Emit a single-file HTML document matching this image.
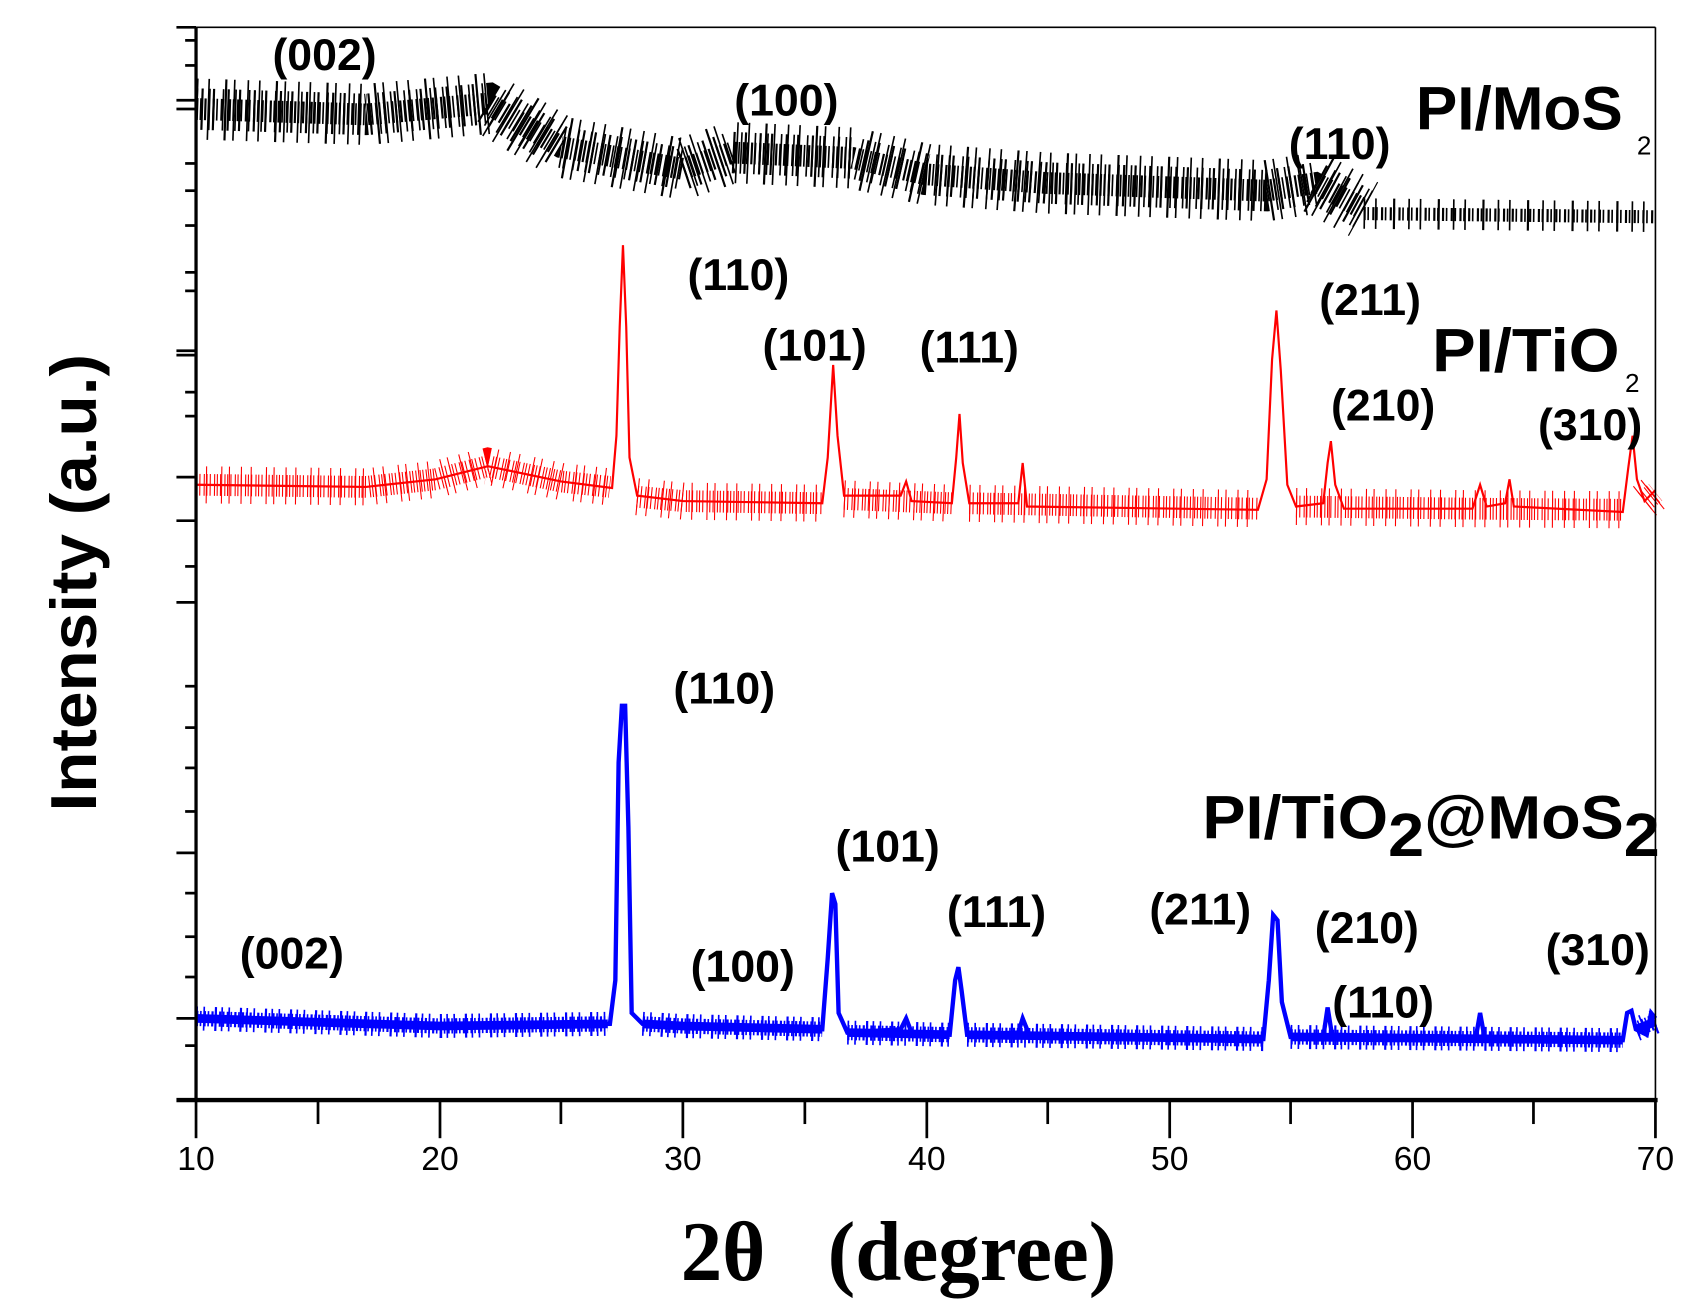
<!DOCTYPE html>
<html><head><meta charset="utf-8"><style>html,body{margin:0;padding:0;background:#fff}svg{display:block}</style></head>
<body>
<svg width="1699" height="1306" viewBox="0 0 1560 1199" xmlns="http://www.w3.org/2000/svg">
<rect width="1560" height="1199" fill="#fff"/>
<!-- black series -->
<g fill="none" stroke="#000">
<path d="M180 100 L336 105 L448 95 L515 135 L627 155 L672 140 L783 145 L850 160 L962 168 L1163 175 L1208 168 L1252 192" stroke-width="56" stroke-dasharray="1.5 9 1.5 14 2 6 1.5 11"/>
<path d="M180 100 L336 105 L448 95 L515 135 L627 155 L672 140 L783 145 L850 160 L962 168 L1163 175 L1208 168 L1252 192" stroke-width="38" stroke-dasharray="1.5 3 2 5 1.5 2 2 7"/>
<path d="M180 100 L336 105 L448 95 L515 135 L627 155 L672 140 L783 145 L850 160 L962 168 L1163 175 L1208 168 L1252 192" stroke-width="20" stroke-dasharray="2 1.5 1.5 2.5"/>
<path d="M1252 196 L1520 199" stroke-width="28" stroke-dasharray="1.5 9 1.5 15 2 12"/>
<path d="M1252 196 L1520 199" stroke-width="12" stroke-dasharray="2 1.5 1.5 3"/>
</g>
<!-- red series -->
<g fill="none" stroke="#f00">
<path d="M180 445 L336 447 L400 440 L448 428 L515 442 L560 447 M585 456 L627 460 L755 462 M775 458 L874 462 M890 462 L1155 467 M1190 465 L1352 467 L1490 468 M1510 460 L1520 452" stroke-width="34" stroke-dasharray="1 8 1 13 1 6 1 10"/>
<path d="M180 445 L336 447 L400 440 L448 428 L515 442 L560 447 M585 456 L627 460 L755 462 M775 458 L874 462 M890 462 L1155 467 M1190 465 L1352 467 L1490 468 M1510 460 L1520 452" stroke-width="20" stroke-dasharray="1 2 1 3 1 1.5"/>
<path d="M180 445 L336 447 L400 440 L448 428 L515 442 L562 448 L566 400 L569 300 L572 225 L575 300 L578 420 L585 455 L627 460 L755 462 L760 420 L765 335 L769 400 L775 455 L827 455 L832 442 L837 460 L874 462 L878 420 L881 380 L884 425 L890 462 L935 462 L939 425 L943 465 L1155 468 L1163 440 L1168 330 L1172 285 L1176 340 L1182 445 L1190 465 L1215 462 L1219 425 L1222 405 L1226 445 L1234 467 L1352 467 L1359 445 L1365 465 L1382 462 L1386 440 L1390 465 L1490 470 L1495 430 L1499 400 L1503 440 L1510 460 L1520 450" stroke-width="2"/>
</g>
<!-- blue series -->
<g fill="none" stroke="#00f">
<path d="M180 935 L404 942 L558 940 M590 940 L627 942 L755 945 M778 948 L872 950 M888 950 L1160 954 M1185 952 L1490 955 M1502 945 L1520 938" stroke-width="22" stroke-dasharray="1.5 5 1.5 9 2 4"/>
<path d="M180 935 L404 942 L558 940 M590 940 L627 942 L755 945 M778 948 L872 950 M888 950 L1160 954 M1185 952 L1490 955 M1502 945 L1520 938" stroke-width="14" stroke-dasharray="2 1.5 1.5 2"/>
<path d="M180 935 L404 942 L558 940 M590 940 L627 942 L755 945 M778 948 L872 950 M888 950 L1160 954 M1185 952 L1490 955 M1502 945 L1520 938" stroke-width="8"/>
<path d="M180 935 L404 942 L560 940 L565 900 L568 700 L571 648 L574 648 L577 760 L580 930 L590 940 L627 942 L755 945 L760 880 L764 820 L767 830 L770 930 L778 948 L827 945 L832 935 L837 948 L872 950 L877 900 L880 888 L883 910 L888 950 L935 948 L939 935 L945 950 L1160 954 L1165 900 L1169 840 L1173 845 L1177 920 L1185 952 L1215 952 L1219 925 L1223 950 L1355 953 L1359 930 L1363 952 L1490 955 L1494 930 L1498 928 L1502 945 L1512 950 L1516 930 L1520 935" stroke-width="4"/>
</g>
<line x1="180" y1="25" x2="1520" y2="25" stroke="#000" stroke-width="1.5"/>
<line x1="1520" y1="25" x2="1520" y2="1010" stroke="#000" stroke-width="1.5"/>
<line x1="180" y1="25" x2="180" y2="1010" stroke="#000" stroke-width="3"/>
<line x1="162" y1="1010" x2="1522" y2="1010" stroke="#000" stroke-width="4"/>
<g stroke="#000" stroke-width="2.5">
<line x1="180" y1="1010" x2="180" y2="1045"/><line x1="292" y1="1010" x2="292" y2="1032"/>
<line x1="404" y1="1010" x2="404" y2="1045"/><line x1="515" y1="1010" x2="515" y2="1032"/>
<line x1="627" y1="1010" x2="627" y2="1045"/><line x1="739" y1="1010" x2="739" y2="1032"/>
<line x1="851" y1="1010" x2="851" y2="1045"/><line x1="962" y1="1010" x2="962" y2="1032"/>
<line x1="1074" y1="1010" x2="1074" y2="1045"/><line x1="1185" y1="1010" x2="1185" y2="1032"/>
<line x1="1297" y1="1010" x2="1297" y2="1045"/><line x1="1408" y1="1010" x2="1408" y2="1032"/>
<line x1="1520" y1="1010" x2="1520" y2="1045"/>
<line x1="162" y1="25" x2="180" y2="25"/><line x1="162" y1="92" x2="180" y2="92"/><line x1="162" y1="100" x2="180" y2="100"/>
<line x1="162" y1="322" x2="180" y2="322"/><line x1="162" y1="326" x2="180" y2="326"/><line x1="162" y1="438" x2="180" y2="438"/>
<line x1="162" y1="478" x2="180" y2="478"/><line x1="162" y1="553" x2="180" y2="553"/><line x1="162" y1="783" x2="180" y2="783"/>
<line x1="162" y1="935" x2="180" y2="935"/>
<line x1="170" y1="37" x2="180" y2="37"/><line x1="170" y1="60" x2="180" y2="60"/><line x1="170" y1="150" x2="180" y2="150"/>
<line x1="170" y1="175" x2="180" y2="175"/><line x1="170" y1="207" x2="180" y2="207"/><line x1="170" y1="250" x2="180" y2="250"/>
<line x1="170" y1="267" x2="180" y2="267"/><line x1="170" y1="360" x2="180" y2="360"/><line x1="170" y1="382" x2="180" y2="382"/>
<line x1="170" y1="520" x2="180" y2="520"/><line x1="170" y1="630" x2="180" y2="630"/><line x1="170" y1="668" x2="180" y2="668"/>
<line x1="170" y1="705" x2="180" y2="705"/><line x1="170" y1="745" x2="180" y2="745"/><line x1="170" y1="820" x2="180" y2="820"/>
<line x1="170" y1="860" x2="180" y2="860"/><line x1="170" y1="897" x2="180" y2="897"/><line x1="170" y1="960" x2="180" y2="960"/>
</g>
<g font-family="Liberation Sans, sans-serif" font-size="31" text-anchor="middle" fill="#000">
<text x="180" y="1074">10</text><text x="404" y="1074">20</text><text x="627" y="1074">30</text><text x="851" y="1074">40</text><text x="1074" y="1074">50</text><text x="1297" y="1074">60</text><text x="1520" y="1074">70</text>
</g>
<text x="625" y="1175" textLength="400" lengthAdjust="spacingAndGlyphs" font-family="Liberation Serif, serif" font-weight="bold" font-size="78" xml:space="preserve">2θ   (degree)</text>
<text transform="translate(88,535) rotate(-90)" font-family="Liberation Sans, sans-serif" font-weight="bold" font-size="60" text-anchor="middle" textLength="420" lengthAdjust="spacingAndGlyphs">Intensity (a.u.)</text>
<g font-family="Liberation Sans, sans-serif" font-weight="bold" font-size="41" text-anchor="middle" fill="#000">
<text x="298" y="64">(002)</text><text x="722" y="106">(100)</text><text x="1230" y="146">(110)</text>
<text x="678" y="266">(110)</text><text x="748" y="331">(101)</text><text x="890" y="333">(111)</text><text x="1258" y="289">(211)</text><text x="1270" y="386">(210)</text><text x="1460" y="404">(310)</text>
<text x="665" y="646">(110)</text><text x="815" y="791">(101)</text><text x="915" y="851">(111)</text><text x="1102" y="849">(211)</text><text x="1255" y="866">(210)</text><text x="268" y="889">(002)</text><text x="682" y="901">(100)</text><text x="1270" y="934">(110)</text><text x="1467" y="886">(310)</text>
</g>
<g font-family="Liberation Sans, sans-serif" font-weight="bold" font-size="56" fill="#000">
<text x="1300" y="119" textLength="190" lengthAdjust="spacingAndGlyphs">PI/MoS</text><text x="1503" y="142" font-size="24" font-weight="normal">2</text>
<text x="1315" y="341" textLength="172" lengthAdjust="spacingAndGlyphs">PI/TiO</text><text x="1492" y="360" font-size="24" font-weight="normal">2</text>
<text x="1104" y="770" textLength="420" lengthAdjust="spacingAndGlyphs">PI/TiO<tspan dy="16">2</tspan><tspan dy="-16">@MoS</tspan><tspan dy="16">2</tspan></text>
</g>
</svg>
</body></html>
